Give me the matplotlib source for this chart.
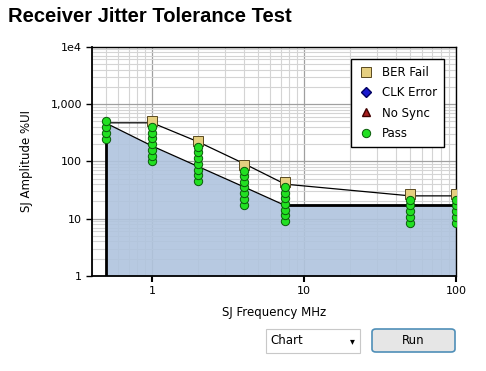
import matplotlib
matplotlib.use("Agg")
import matplotlib.pyplot as plt
from matplotlib.patches import FancyBboxPatch, Rectangle
from matplotlib.ticker import FixedLocator, LogLocator, NullFormatter

# SJ frequencies tested (MHz)
freq = [0.5, 1, 2, 4, 7.5, 50, 100]

# passing SJ amplitudes (%UI) per frequency
pass_amp = [
    [250, 315, 400, 500],
    [100, 126, 158, 200, 251, 316, 398],
    [45, 57, 72, 90, 113, 143, 180],
    [17.5, 22, 27.5, 35, 44, 55, 69],
    [9, 11.4, 14.3, 18, 22.7, 28.6, 36],
    [8.5, 10.7, 13.5, 17, 21.4],
    [8.5, 10.7, 13.5, 17, 21.4],
]

# first failing amplitude
fail_freq = [1, 2, 4, 7.5, 50, 100]
fail_amp = [500, 225, 88, 44, 27, 27]

# measured tolerance line
tol_freq = [0.5, 1, 2, 4, 7.5, 50, 100]
tol_amp = [470, 470, 220, 92, 40, 25, 25]

# spec mask
mask_freq = [0.5, 1, 4, 7.5, 100]
mask_amp = [460, 185, 36, 17, 17]

W, H = 486, 371
fig = plt.figure(figsize=(W / 100, H / 100), dpi=100)
ax = fig.add_axes([91.7 / W, 1 - 276 / H, (456 - 91.7) / W, (276 - 46.7) / H])

ax.set_xscale("log")
ax.set_yscale("log")
ax.set_xlim(0.4, 100)
ax.set_ylim(1, 1e4)

# grid
ax.set_axisbelow(True)
ax.grid(True, which="major", color="#a0a0a0", lw=0.9)
ax.grid(True, which="minor", color="#d4d4d4", lw=0.8)

# mask fill
ax.fill_between(mask_freq, mask_amp, 1, color="#b0c4de", alpha=0.9, lw=0, zorder=0.6)
ax.plot(mask_freq, mask_amp, color="black", lw=0.9, zorder=2)
ax.vlines(mask_freq[0], 1, mask_amp[0], color="black", lw=2, zorder=2)
ax.hlines(mask_amp[-1], mask_freq[-2], mask_freq[-1], color="black", lw=2, zorder=2)

# tolerance line
ax.plot(tol_freq, tol_amp, color="black", lw=0.9, zorder=2)

# markers
ax.plot(fail_freq, fail_amp, "s", ms=6.5, mfc="#e6cf80", mec="#5a4a20", mew=0.7,
        zorder=3, label="BER Fail", ls="none")
ax.plot([], [], "D", ms=5, mfc="#1a1ad0", mec="#000060", label="CLK Error", ls="none")
ax.plot([], [], "^", ms=6, mfc="#a82020", mec="#400000", label="No Sync", ls="none")
for i, (f, amps) in enumerate(zip(freq, pass_amp)):
    ax.plot([f] * len(amps), amps, "o", ms=6, mfc="#22e022", mec="#0a5a0a", mew=0.7,
            zorder=4, ls="none", label="Pass" if i == 0 else None)

# ticks
ax.xaxis.set_major_locator(FixedLocator([1, 10, 100]))
ax.set_xticklabels(["1", "10", "100"])
ax.xaxis.set_minor_locator(LogLocator(base=10, subs=range(2, 10), numticks=20))
ax.xaxis.set_minor_formatter(NullFormatter())
ax.yaxis.set_major_locator(FixedLocator([1, 10, 100, 1000, 10000]))
ax.set_yticklabels(["1", "10", "100", "1,000", "1e4"])
ax.yaxis.set_minor_locator(LogLocator(base=10, subs=range(2, 10), numticks=20))
ax.yaxis.set_minor_formatter(NullFormatter())
ax.tick_params(which="major", length=4, width=1, labelsize=8, pad=3, color="black")
ax.tick_params(which="minor", length=0)
ax.tick_params(axis="x", length=4, width=1.5)

for s in ax.spines.values():
    s.set_color("black")
    s.set_linewidth(1)
ax.spines["left"].set_linewidth(1.3)
ax.spines["bottom"].set_linewidth(1.3)

ax.set_xlabel("SJ Frequency MHz", fontsize=8.5)
ax.xaxis.set_label_coords(0.5, -0.13)
ax.set_ylabel("SJ Amplitude %UI", fontsize=8.5)
ax.yaxis.set_label_coords(-0.16, 0.5)

leg = ax.legend(loc="upper right", bbox_to_anchor=(0.967, 0.945), borderaxespad=0,
                fontsize=8.5, frameon=True, fancybox=False, shadow=False,
                edgecolor="black", framealpha=1, labelspacing=0.6,
                handletextpad=0.6, handlelength=1.4, borderpad=0.6)
leg.get_frame().set_linewidth(1)

fig.text(8 / W, 1 - 17 / H, "Receiver Jitter Tolerance Test", fontsize=14.5,
         fontweight="bold", family="Liberation Sans", va="center", ha="left")

# combo box and button
fig.patches.append(Rectangle((266 / W, 1 - 353 / H), 94 / W, 24 / H,
                             transform=fig.transFigure, facecolor="white",
                             edgecolor="#c8c8c8", lw=0.8))
fig.text(270 / W, 1 - 341 / H, "Chart", fontsize=8.5, va="center", ha="left")
fig.text(352 / W, 1 - 341 / H, "\u25be", fontsize=7, va="center", ha="center")
fig.patches.append(FancyBboxPatch((372 / W, 1 - 352 / H), 83 / W, 23 / H,
                                  boxstyle="round,pad=0,rounding_size=0.008",
                                  transform=fig.transFigure, facecolor="#e6e6e6",
                                  edgecolor="#4f8fb8", lw=1.2))
fig.text(413 / W, 1 - 341 / H, "Run", fontsize=8.5, va="center", ha="center")

fig.savefig("out.png", dpi=100)
